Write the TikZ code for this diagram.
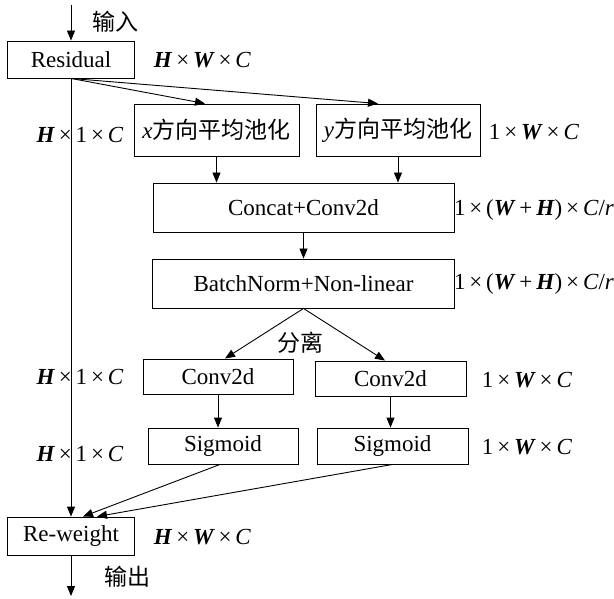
\documentclass[tikz,border=0pt]{standalone}
\usepackage{fontspec}
\setmainfont{Liberation Serif}
\newfontfamily\cjk{Noto Sans CJK SC}
\usetikzlibrary{arrows.meta,calc}
\newcommand{\bi}[1]{\textbf{\textit{#1}}}
\newcommand{\mx}{\,×\,}
\begin{document}
\begin{tikzpicture}[x=1pt,y=-1pt,
  font=\fontsize{23}{27}\selectfont, line width=0.9pt,
  box/.style={draw, inner sep=0pt, anchor=center},
  arr/.style={-{Triangle[length=10pt,width=8pt]}},
  lbl/.style={inner sep=0pt, anchor=center}]
\useasboundingbox (0,0) rectangle (614,599);
% boxes
\node[box, minimum width=127pt, minimum height=37pt] (res) at (71,59.5) {Residual};
\node[box, minimum width=165pt, minimum height=52pt] (xp) at (216.5,130) {{\itshape x}{\cjk 方向平均池化}};
\node[box, minimum width=164pt, minimum height=52pt] (yp) at (398,130) {{\itshape y}{\cjk 方向平均池化}};
\node[box, minimum width=301pt, minimum height=49pt] (cc) at (303.5,207.5) {Concat+Conv2d};
\node[box, minimum width=302pt, minimum height=49pt] (bn) at (303.5,283.5) {BatchNorm+Non-linear};
\node[box, minimum width=150pt, minimum height=35pt] (cl) at (218,376.5) {Conv2d};
\node[box, minimum width=151pt, minimum height=35pt] (cr) at (390.5,378.5) {Conv2d};
\node[box, minimum width=150pt, minimum height=36pt] (sl) at (223,446) {Sigmoid};
\node[box, minimum width=151pt, minimum height=36pt] (sr) at (392.5,446) {Sigmoid};
\node[box, minimum width=127pt, minimum height=38pt] (rw) at (71,536) {Re-weight};
% labels
\node[lbl] (lin) at (115,22) {\cjk 输入};
\node[lbl] (lout) at (127,577) {\cjk 输出};
\node[lbl] (lsplit) at (300,343) {\cjk 分离};
\node[lbl] (l1) at (202.5,60) {\bi{H}\mx\bi{W}\mx\textit{C}};
\node[lbl] (l2) at (80,135) {\bi{H}\mx 1\mx\textit{C}};
\node[lbl] (l3) at (534,132) {1\mx\bi{W}\mx\textit{C}};
\node[lbl] (l4) at (534,210) {1\mx(\bi{W}\,+\,\bi{H})\mx\textit{C}/\textit{r}};
\node[lbl] (l5) at (534,284) {1\mx(\bi{W}\,+\,\bi{H})\mx\textit{C}/\textit{r}};
\node[lbl] (l6) at (80,377) {\bi{H}\mx 1\mx\textit{C}};
\node[lbl] (l7) at (527,380) {1\mx\bi{W}\mx\textit{C}};
\node[lbl] (l8) at (80,454) {\bi{H}\mx 1\mx\textit{C}};
\node[lbl] (l9) at (527,447) {1\mx\bi{W}\mx\textit{C}};
\node[lbl] (l10) at (202.5,537) {\bi{H}\mx\bi{W}\mx\textit{C}};
% connectors
\coordinate (in) at (71,5);
\coordinate (out) at (71,596);
\draw[arr] (in) -- (res.north);
\draw[arr] (res.south) -- (rw.north);
\draw[arr] (res.south) -- ([xshift=-11.5pt]xp.north);
\draw[arr] (res.south) -- ([xshift=-20pt]yp.north);
\draw[arr] (xp.south) -- (xp.south |- cc.north);
\draw[arr] (yp.south) -- (yp.south |- cc.north);
\draw[arr] (cc.south) -- (bn.north);
\draw[arr] (bn.south) -- ([xshift=7pt]cl.north);
\draw[arr] (bn.south) -- ([xshift=-5.5pt]cr.north);
\draw[arr] (cl.south) -- (cl.south |- sl.north);
\draw[arr] (cr.south) -- (cr.south |- sr.north);
\draw[arr] ([xshift=-3pt]sl.south) -- ([xshift=12pt]rw.north);
\draw[arr] (sr.south) -- ([xshift=26pt]rw.north);
\draw[arr] (rw.south) -- (out);
\end{tikzpicture}
\end{document}
